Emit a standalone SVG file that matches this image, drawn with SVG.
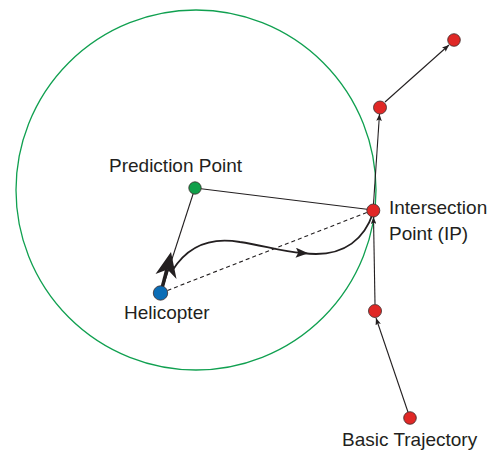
<svg xmlns="http://www.w3.org/2000/svg" width="500" height="452" viewBox="0 0 500 452">
<defs>
<style>
.lbl{font-family:"Liberation Sans",Arial,sans-serif;font-size:19px;fill:#231f20}
.ln{stroke:#231f20;stroke-width:1.1;fill:none}
.nd{stroke:#3a2a2a;stroke-width:0.8}
.red{fill:#e02826}
</style>
<marker id="ah" viewBox="0 0 10 8" refX="10" refY="4" markerWidth="7" markerHeight="5.6" markerUnits="userSpaceOnUse" orient="auto">
<path d="M0,0 L10,4 L0,8 L2,4 Z" fill="#231f20"/>
</marker>
<marker id="ahBig" viewBox="0 0 10 8" refX="5" refY="4" markerWidth="13" markerHeight="10" markerUnits="userSpaceOnUse" orient="auto">
<path d="M0,0 L10,4 L0,8 L2,4 Z" fill="#231f20"/>
</marker>
</defs>
<rect width="500" height="452" fill="#ffffff"/>
<circle id="range" cx="196" cy="190" r="180" fill="none" stroke="#10a050" stroke-width="1.3"/>
<g id="connectors">
<line class="ln" x1="161" y1="293" x2="195" y2="188"/>
<line class="ln" x1="195" y1="188" x2="373" y2="210"/>
<line class="ln" x1="161" y1="293" x2="373" y2="210" stroke-dasharray="4,3"/>
<line class="ln" x1="410" y1="418" x2="376" y2="318" marker-end="url(#ah)"/>
<line class="ln" x1="375" y1="304" x2="373.5" y2="217" marker-end="url(#ah)"/>
<line class="ln" x1="373.5" y1="204" x2="379.5" y2="114" marker-end="url(#ah)"/>
<line class="ln" x1="385" y1="102" x2="449" y2="45" marker-end="url(#ah)"/>
<path d="M172,271 C188,245 212,237 240,242 C262,245 282,252 302,253" fill="none" stroke="#231f20" stroke-width="1.8" marker-end="url(#ahBig)"/>
<path d="M302,253 C306,253.5 311,254 316,254 C344,254 364,240 373,213" fill="none" stroke="#231f20" stroke-width="1.8"/>
<line x1="161" y1="292" x2="167" y2="269" stroke="#231f20" stroke-width="3.5"/>
<path d="M171,252 L176.5,279 L167.5,269.5 L155.5,274 Z" fill="#231f20"/>
</g>
<g id="helicopter">
<circle class="nd" cx="160.5" cy="293" r="7.2" fill="#0b6db6"/>
<text class="lbl" x="124" y="319">Helicopter</text>
</g>
<g id="prediction-point">
<circle class="nd" cx="195" cy="188" r="6.2" fill="#10a04a"/>
<text class="lbl" x="109" y="172">Prediction Point</text>
</g>
<g id="intersection-point">
<circle class="nd red" cx="373.3" cy="210.5" r="6.5"/>
<text class="lbl" x="389" y="214">Intersection</text>
<text class="lbl" x="389" y="240">Point (IP)</text>
</g>
<g id="traj-1"><circle class="nd red" cx="410" cy="418" r="6.3"/></g>
<g id="traj-2"><circle class="nd red" cx="375" cy="311" r="6.5"/></g>
<g id="traj-3"><circle class="nd red" cx="380" cy="107.5" r="6.5"/></g>
<g id="traj-4"><circle class="nd red" cx="454" cy="40" r="6.3"/></g>
<text class="lbl" x="342" y="446">Basic Trajectory</text>
</svg>
